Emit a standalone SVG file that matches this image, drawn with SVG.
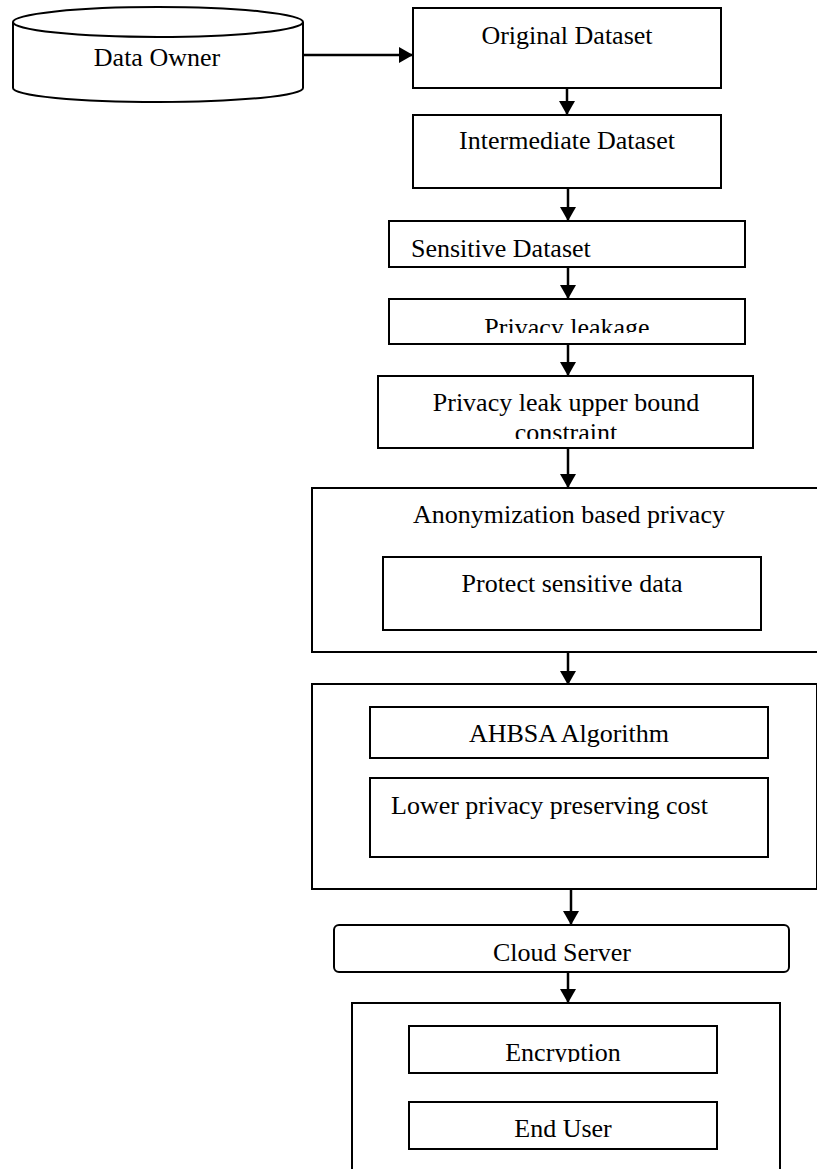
<svg xmlns="http://www.w3.org/2000/svg" width="817" height="1169" viewBox="0 0 817 1169">
<style>
.b{fill:#fff;stroke:#000;stroke-width:2}
.t{font-family:"Liberation Serif","Times New Roman",serif;font-size:26px;fill:#000}
.m{text-anchor:middle}
.c{stroke:#000;stroke-width:2.5;fill:none}
</style>
<defs>
<marker id="ah2" viewBox="0 0 14 16" refX="14" refY="8" markerWidth="14" markerHeight="16" orient="auto" markerUnits="userSpaceOnUse">
<path d="M0,0 L14,8 L0,16 Z" fill="#000"/>
</marker>
<clipPath id="c1"><rect x="389" y="299" width="356" height="34"/></clipPath>
<clipPath id="c2"><rect x="378" y="376" width="375" height="63"/></clipPath>
<clipPath id="c3"><rect x="409" y="1026" width="308" height="36"/></clipPath>
</defs>
<rect width="817" height="1169" fill="#fff"/>

<g id="connectors">
<line class="c" x1="303" y1="55" x2="413" y2="55" marker-end="url(#ah2)"/>
<line class="c" x1="567" y1="88" x2="567" y2="115" marker-end="url(#ah2)"/>
<line class="c" x1="568" y1="188" x2="568" y2="221" marker-end="url(#ah2)"/>
<line class="c" x1="568" y1="267" x2="568" y2="299" marker-end="url(#ah2)"/>
<line class="c" x1="568" y1="344" x2="568" y2="376" marker-end="url(#ah2)"/>
<line class="c" x1="568" y1="448" x2="568" y2="488" marker-end="url(#ah2)"/>
<line class="c" x1="568" y1="652" x2="568" y2="685" marker-end="url(#ah2)"/>
<line class="c" x1="571" y1="889" x2="571" y2="925" marker-end="url(#ah2)"/>
<line class="c" x1="568" y1="972" x2="568" y2="1003" marker-end="url(#ah2)"/>
</g>

<g id="data-owner">
<path class="b" d="M13,22 L13,88 A145,14 0 0 0 303,88 L303,22"/>
<ellipse class="b" cx="158" cy="22" rx="145" ry="15"/>
<text class="t m" x="157" y="66">Data Owner</text>
</g>

<g id="original-dataset">
<rect class="b" x="413" y="8" width="308" height="80"/>
<text class="t m" x="567" y="44">Original Dataset</text>
</g>

<g id="intermediate-dataset">
<rect class="b" x="413" y="115" width="308" height="73"/>
<text class="t m" x="567" y="149">Intermediate Dataset</text>
</g>

<g id="sensitive-dataset">
<rect class="b" x="389" y="221" width="356" height="46"/>
<text class="t" x="411" y="257">Sensitive Dataset</text>
</g>

<g id="privacy-leakage">
<rect class="b" x="389" y="299" width="356" height="45"/>
<text class="t m" x="567" y="335.5" clip-path="url(#c1)">Privacy leakage</text>
</g>

<g id="privacy-leak-upper-bound">
<rect class="b" x="378" y="376" width="375" height="72"/>
<g clip-path="url(#c2)">
<text class="t m" x="566" y="411">Privacy leak upper bound</text>
<text class="t m" x="566" y="441">constraint</text>
</g>
</g>

<g id="anonymization">
<rect class="b" x="312" y="488" width="520" height="164"/>
<text class="t m" x="569" y="523">Anonymization based privacy</text>
</g>

<g id="protect-sensitive-data">
<rect class="b" x="383" y="557" width="378" height="73"/>
<text class="t m" x="572" y="592">Protect sensitive data</text>
</g>

<g id="ahbsa-group">
<rect class="b" x="312" y="684" width="505" height="205"/>
</g>

<g id="ahbsa-algorithm">
<rect class="b" x="370" y="707" width="398" height="51"/>
<text class="t m" x="569" y="742">AHBSA Algorithm</text>
</g>

<g id="lower-cost">
<rect class="b" x="370" y="778" width="398" height="79"/>
<text class="t" x="391" y="814">Lower privacy preserving cost</text>
</g>

<g id="cloud-server">
<rect class="b" x="334" y="925" width="455" height="47" rx="5"/>
<text class="t m" x="562" y="961">Cloud Server</text>
</g>

<g id="user-group">
<rect class="b" x="352" y="1003" width="428" height="180"/>
</g>

<g id="encryption">
<rect class="b" x="409" y="1026" width="308" height="47"/>
<text class="t m" x="563" y="1061" clip-path="url(#c3)">Encryption</text>
</g>

<g id="end-user">
<rect class="b" x="409" y="1102" width="308" height="47"/>
<text class="t m" x="563" y="1137">End User</text>
</g>
</svg>
